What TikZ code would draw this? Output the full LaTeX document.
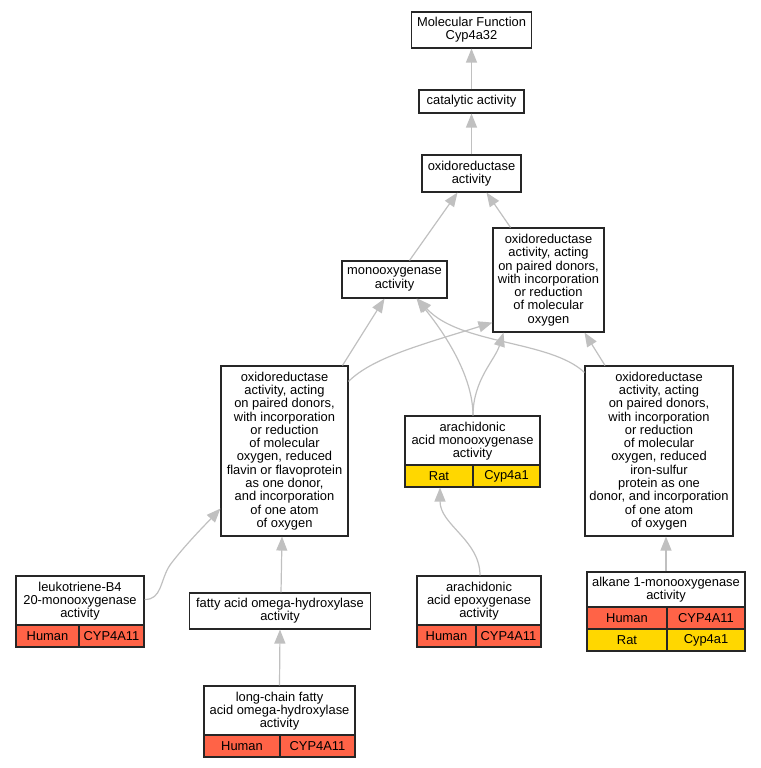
\documentclass[tikz,border=0pt]{standalone}
\usepackage{fontspec}
\setmainfont{Liberation Sans}
\usetikzlibrary{arrows.meta,calc}
\definecolor{edgegray}{HTML}{C0C0C0}
\definecolor{human}{HTML}{FF6347}
\definecolor{rat}{HTML}{FFD700}
\begin{document}
\begin{tikzpicture}[x=1pt,y=-1pt,
  every node/.style={font=\fontsize{12.9}{13.3}\selectfont},
  box/.style={draw=black!85, line width=1.1pt, fill=white, align=center, inner sep=0pt},
  txt/.style={align=center, inner sep=0pt},
  cell/.style={draw=black!85, line width=1.1pt, inner sep=0pt},
  edge/.style={draw=edgegray, line width=1.2pt, -{Triangle[length=14pt,width=11pt]}, fill=none},
]
\useasboundingbox (0,0) rectangle (760,768);
% plain nodes
\node[box, minimum width=120, minimum height=36] (mf) at (471.5,30) {Molecular Function\\Cyp4a32};
\node[box, minimum width=105, minimum height=23] (cat) at (471.5,101.5) {catalytic activity};
\node[box, minimum width=99, minimum height=37] (oxr) at (471.5,173.5) {oxidoreductase\\activity};
\node[box, minimum width=105, minimum height=37] (mono) at (394.5,279.5) {monooxygenase\\activity};
\node[box, minimum width=111, minimum height=104] (pair) at (548.5,280) {oxidoreductase\\activity, acting\\on paired donors,\\with incorporation\\or reduction\\of molecular\\oxygen};
\node[box, minimum width=127, minimum height=170] (flav) at (284.5,451) {oxidoreductase\\activity, acting\\on paired donors,\\with incorporation\\or reduction\\of molecular\\oxygen, reduced\\flavin or flavoprotein\\as one donor,\\and incorporation\\of one atom\\of oxygen};
\node[box, minimum width=148, minimum height=170] (iron) at (659,451) {oxidoreductase\\activity, acting\\on paired donors,\\with incorporation\\or reduction\\of molecular\\oxygen, reduced\\iron-sulfur\\protein as one\\donor, and incorporation\\of one atom\\of oxygen};
\node[box, minimum width=181, minimum height=36] (fatty) at (280,611) {fatty acid omega-hydroxylase\\activity};
% table nodes
\node[box, minimum width=135, minimum height=71] (arm) at (472.5,451.5) {};
\node[txt] at (472.5,441) {arachidonic\\acid monooxygenase\\activity};
\node[cell, fill=rat, minimum width=68, minimum height=22] at (439,476) {Rat};
\node[cell, fill=rat, minimum width=67, minimum height=22] at (506.5,476) {Cyp4a1};

\node[box, minimum width=128, minimum height=71] (leuk) at (80,611.5) {};
\node[txt] at (80,601) {leukotriene-B4\\20-monooxygenase\\activity};
\node[cell, fill=human, minimum width=63, minimum height=22] at (47.5,636) {Human};
\node[cell, fill=human, minimum width=65, minimum height=22] at (111.5,636) {CYP4A11};

\node[box, minimum width=124, minimum height=71] (epox) at (479,611.5) {};
\node[txt] at (479,601) {arachidonic\\acid epoxygenase\\activity};
\node[cell, fill=human, minimum width=59, minimum height=22] at (446.5,636) {Human};
\node[cell, fill=human, minimum width=65, minimum height=22] at (508.5,636) {CYP4A11};

\node[box, minimum width=158, minimum height=79] (alk) at (666,611.5) {};
\node[txt] at (666,589.5) {alkane 1-monooxygenase\\activity};
\node[cell, fill=human, minimum width=80, minimum height=22] at (627,618) {Human};
\node[cell, fill=human, minimum width=78, minimum height=22] at (706,618) {CYP4A11};
\node[cell, fill=rat, minimum width=80, minimum height=22] at (627,640) {Rat};
\node[cell, fill=rat, minimum width=78, minimum height=22] at (706,640) {Cyp4a1};

\node[box, minimum width=151, minimum height=71] (long) at (279.5,721.5) {};
\node[txt] at (279.5,711) {long-chain fatty\\acid omega-hydroxylase\\activity};
\node[cell, fill=human, minimum width=76, minimum height=22] at (242,746) {Human};
\node[cell, fill=human, minimum width=75, minimum height=22] at (317.5,746) {CYP4A11};

% edges
\draw[edge] (cat.north) -- (mf.south);
\draw[edge] (oxr.north) -- (cat.south);
\draw[edge] ($(mono.north)+(15,0)$) -- ($(oxr.south)+(-14,0)$);
\draw[edge] ($(pair.north)+(-38,0)$) -- ($(oxr.south)+(15,0)$);
\draw[edge] ($(flav.north)+(58,0)$) -- ($(mono.south)+(-10,0)$);
\draw[edge] ($(flav.north east)+(0,16)$) .. controls (372,358) and (420,345) .. ($(pair.south west)+(0,-10)$);
\draw[edge] ($(arm.north)+(0.5,0)$) .. controls (473,380) and (450,340) .. ($(mono.south)+(22,0)$);
\draw[edge] ($(arm.north)+(0.5,0)$) .. controls (473,380) and (495,360) .. ($(pair.south)+(-45,0)$);
\draw[edge] ($(iron.north west)+(0,7)$) .. controls (550,340) and (460,345) .. ($(mono.south)+(23,0)$);
\draw[edge] ($(iron.north)+(-54,0)$) -- ($(pair.south)+(36,0)$);
\draw[edge] ($(leuk.north east)+(0,24)$) .. controls (162,600) and (160,580) .. (170,565) .. controls (185,545) and (205,525) .. ($(flav.south west)+(0,-28)$);
\draw[edge] ($(fatty.north)+(1,0)$) -- ($(flav.south)+(-2.5,0)$);
\draw[edge] (long.north) -- ($(fatty.south)+(0,0)$);
\draw[edge] ($(epox.north)+(1,0)$) .. controls (480,540) and (440,525) .. ($(arm.south)+(-32.5,0)$);
\draw[edge] (alk.north) -- (iron.south -| alk.north);
\end{tikzpicture}
\end{document}
